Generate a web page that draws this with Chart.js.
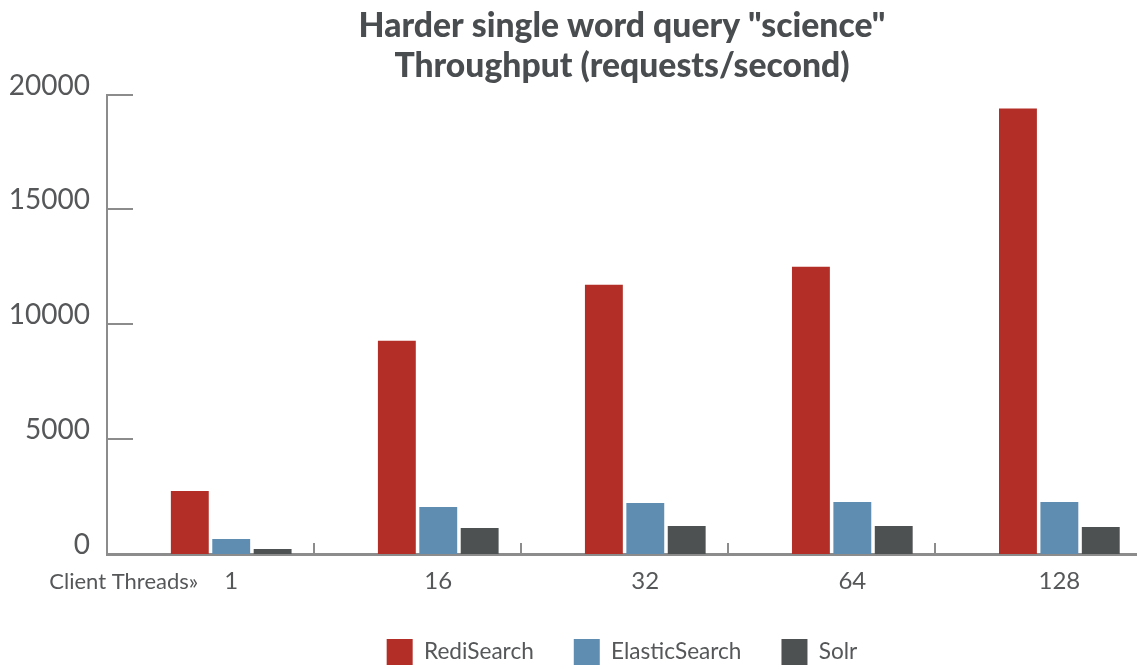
<!DOCTYPE html>
<html>
<head>
<meta charset="utf-8">
<script src="https://cdn.jsdelivr.net/npm/chart.js@4/dist/chart.umd.min.js"></script>
<style>
	html, body { margin: 0; padding: 0; background: #fff; }
	#wrap { width: 1137px; height: 669px; }
</style>
</head>
<body>
<div id="wrap"><canvas id="chart"></canvas></div>
<script>
// client thread counts on the x axis
const threads = ['1', '16', '32', '64', '128'];

// throughput, requests/second
const rediSearch = [2745, 9280, 11720, 12500, 19390];
const elasticSearch = [655, 2050, 2220, 2265, 2265];
const solr = [220, 1135, 1220, 1220, 1175];

const yTicks = [0, 5000, 10000, 15000, 20000];

const seriesNames = ['RediSearch', 'ElasticSearch', 'Solr'];
const seriesColors = ['#b32e27', '#5f8db2', '#4d5152'];

const axisGray = '#8c8c8c';
const textGray = '#555759';


function points(values)
{
	return values.map((v, i) => ({ x: i, y: v }));
}


// small tick marks drawn inside the plot, plus the "Client Threads»" caption
const innerTicks = {
	id: 'innerTicks',
	afterDraw(chart)
	{
		const ctx = chart.ctx;
		const xs = chart.scales.x;
		const ys = chart.scales.y;
		const area = chart.chartArea;

		ctx.save();
		ctx.strokeStyle = axisGray;
		ctx.lineWidth = 2;

		ys.ticks.forEach(t => {
			const y = Math.round(ys.getPixelForValue(t.value));
			ctx.beginPath();
			ctx.moveTo(area.left, y);
			ctx.lineTo(area.left + 26, y);
			ctx.stroke();
		});

		for (let i = 0; i < threads.length - 1; i++) {
			const x = Math.round(xs.getPixelForValue(i + 0.4));
			ctx.beginPath();
			ctx.moveTo(x, area.bottom);
			ctx.lineTo(x, area.bottom - 11);
			ctx.stroke();
		}

		ctx.fillStyle = textGray;
		ctx.font = '22px Lato';
		ctx.textAlign = 'right';
		ctx.textBaseline = 'middle';
		ctx.fillText('Client Threads»', xs.getPixelForValue(0) - 33, area.bottom + 28);
		ctx.restore();
	}
};


new Chart(document.getElementById('chart'), {
	type: 'bar',
	data: {
		datasets: [
			{ label: seriesNames[0], data: points(rediSearch), backgroundColor: seriesColors[0] },
			{ label: seriesNames[1], data: points(elasticSearch), backgroundColor: seriesColors[1] },
			{ label: seriesNames[2], data: points(solr), backgroundColor: seriesColors[2] },
		]
	},
	options: {
		responsive: true,
		maintainAspectRatio: false,
		animation: false,
		events: [],
		categoryPercentage: 0.6,
		barPercentage: 0.915,
		layout: {
			padding: { left: 8, right: 0, top: 0, bottom: 0 }
		},
		scales: {
			x: {
				type: 'linear',
				offset: false,
				min: -0.6,
				max: 4.375,
				afterBuildTicks: scale => {
					scale.ticks = threads.map((t, i) => ({ value: i }));
				},
				afterFit: scale => {
					scale.height = 45;
				},
				grid: { display: false, drawTicks: false },
				border: { display: true, color: axisGray, width: 3 },
				ticks: {
					autoSkip: false,
					maxRotation: 0,
					padding: 13,
					color: textGray,
					font: { family: 'Lato', size: 24 },
					callback: v => threads[v],
				},
			},
			y: {
				min: 0,
				max: 20000,
				afterBuildTicks: scale => {
					scale.ticks = yTicks.map(v => ({ value: v }));
				},
				afterFit: scale => {
					scale.width = 99;
				},
				grid: { display: false, drawTicks: false },
				border: { display: true, color: axisGray, width: 2 },
				ticks: {
					padding: 17,
					labelOffset: -9,
					color: textGray,
					font: { family: 'Lato', size: 28 },
					callback: v => String(v),
				},
			},
		},
		plugins: {
			title: {
				display: true,
				fullSize: false,
				text: ['Harder single word query "science"', 'Throughput (requests/second)'],
				color: '#4a4d4f',
				font: { family: 'Lato', size: 33.7, weight: 900, lineHeight: 1.18 },
				padding: { top: 6, bottom: 9 },
			},
			legend: {
				position: 'bottom',
				fullSize: false,
				maxHeight: 70,
				labels: {
					boxWidth: 26,
					boxHeight: 26,
					padding: 40,
					color: textGray,
					font: { family: 'Lato', size: 22.6 },
				},
			},
			tooltip: { enabled: false },
		},
	},
	plugins: [innerTicks],
});
</script>
</body>
</html>
